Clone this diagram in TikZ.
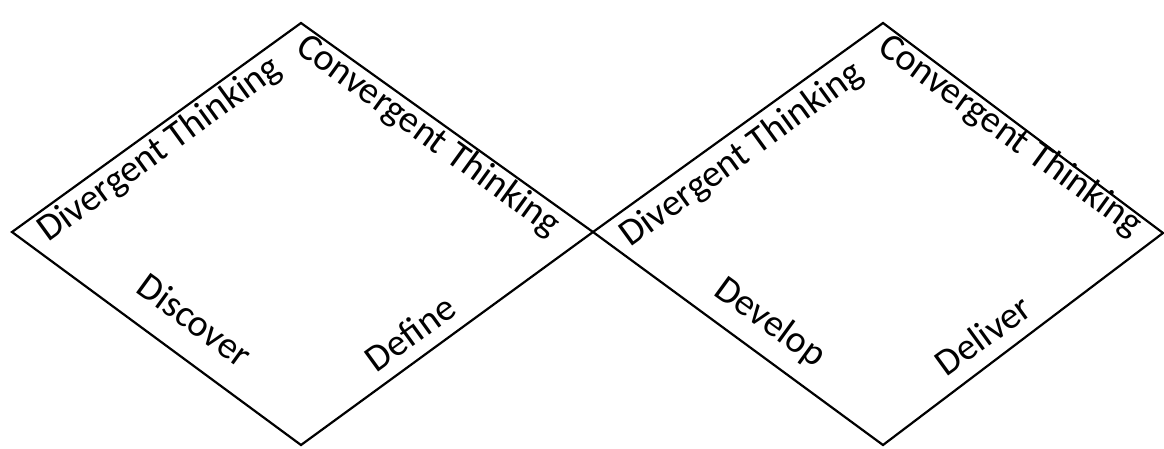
\documentclass[tikz,border=0pt]{standalone}
\usepackage{fontspec}
\setmainfont{Carlito}
\begin{document}
\begin{tikzpicture}[x=1pt,y=-1pt,
  edge/.style={draw=black,line width=2.2pt,line join=miter},
  lbl/.style={font=\fontsize{38}{44}\selectfont,inner sep=0pt}]
\useasboundingbox (0,0) rectangle (1164,448);
\coordinate (l1) at (12,232);
\coordinate (t1) at (301,23);
\coordinate (m) at (593,232);
\coordinate (b1) at (301,445);
\coordinate (t2) at (883,23);
\coordinate (r2) at (1163,233);
\coordinate (b2) at (883,445);
\draw[edge] (l1) -- (t1) -- (m) -- (b1) -- cycle;
\draw[edge] (m) -- (t2) -- (r2) -- (b2) -- cycle;
\node[lbl,rotate=36] (div1) at (160,150) {Divergent Thinking};
\node[lbl,rotate=-36] (con1) at (428,136) {Convergent Thinking};
\node[lbl,rotate=-36] (dis) at (195,320) {Discover};
\node[lbl,rotate=36] (def) at (410,333) {Define};
\node[lbl,rotate=36] (div2) at (742,155) {Divergent Thinking};
\node[lbl,rotate=-36] (con2) at (1010,136) {Convergent Thinking};
\node[lbl,rotate=-36] (dev) at (770,323) {Develop};
\node[lbl,rotate=36] (del) at (983,335) {Deliver};
\end{tikzpicture}
\end{document}
